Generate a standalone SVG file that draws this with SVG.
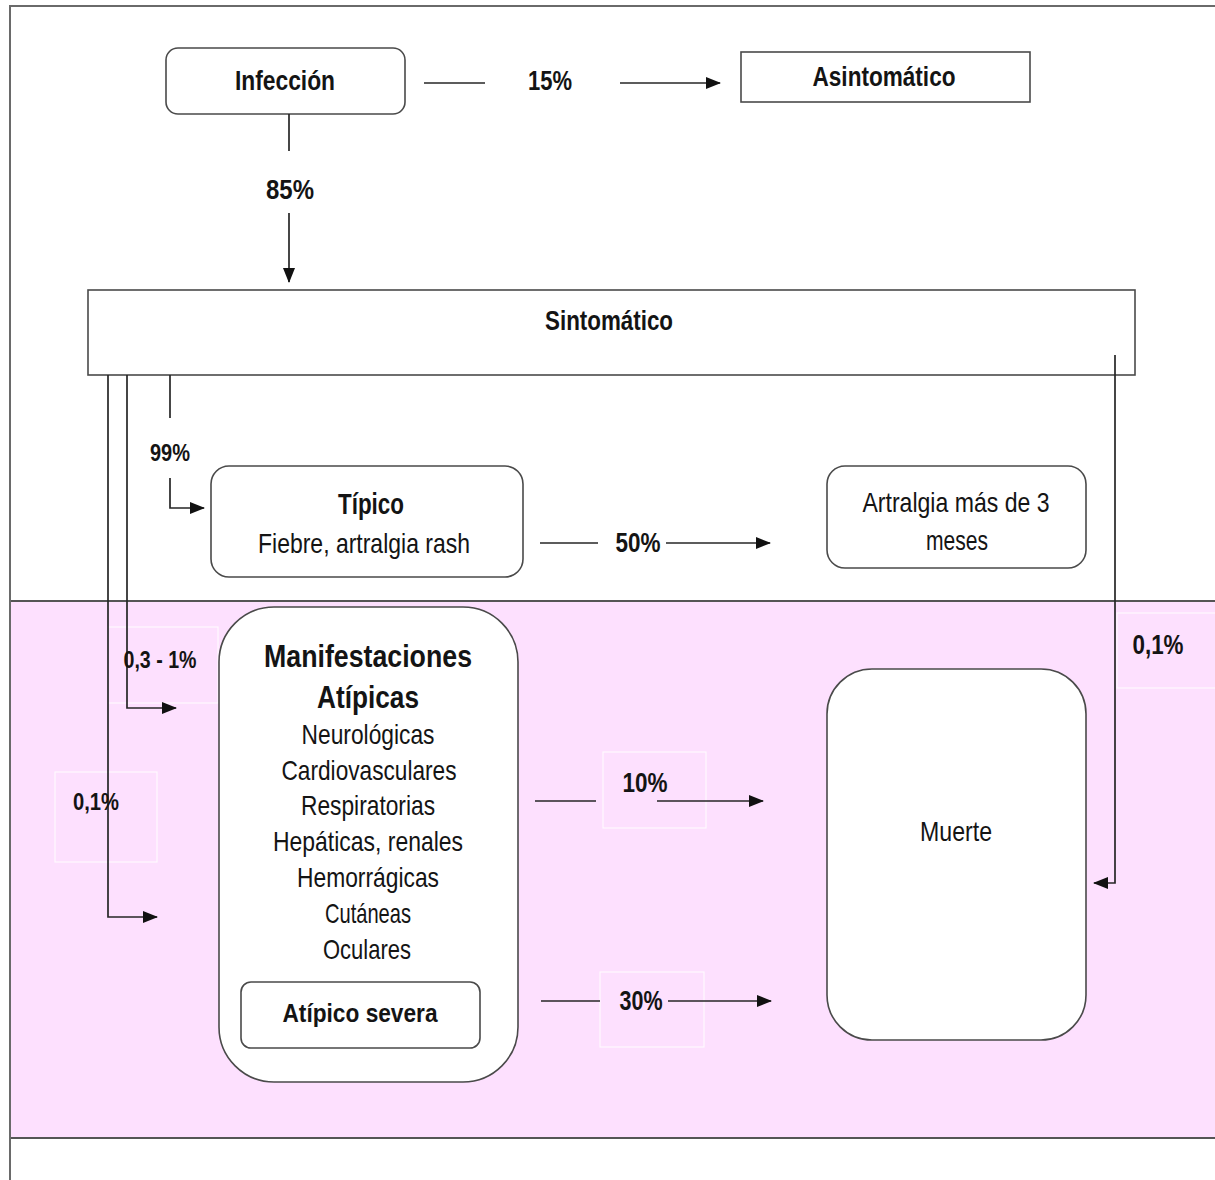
<svg xmlns="http://www.w3.org/2000/svg" width="1215" height="1180" viewBox="0 0 1215 1180">
  <style>
    text { font-family: "Liberation Sans Narrow", "Liberation Sans", Arial, sans-serif; fill: #141414; text-anchor: middle; dominant-baseline: central; }
    .b { font-weight: bold; }
    .lbl { font-weight: bold; font-size: 27px; }
    .sm { font-weight: bold; font-size: 24px; }
    .n { font-size: 28px; }
    .box { fill: #fff; stroke: #4a4a4a; stroke-width: 1.6; }
    .conn { fill: none; stroke: #262626; stroke-width: 1.7; }
    .tb { fill: none; stroke: #ffffff; stroke-width: 1.2; opacity: 0.8; }
  </style>
  <defs>
    <marker id="arr" viewBox="0 0 15 12" refX="14" refY="6" markerWidth="15" markerHeight="12" markerUnits="userSpaceOnUse" orient="auto">
      <path d="M0,0 L15,6 L0,12 Z" fill="#111"/>
    </marker>
  </defs>

  <rect width="1215" height="1180" fill="#fff"/>

  <!-- shaded band for atypical outcomes -->
  <rect x="10" y="601" width="1210" height="537" fill="#fde0fe"/>
  <line x1="10" y1="601" x2="1215" y2="601" stroke="#555" stroke-width="1.8"/>
  <line x1="10" y1="1138" x2="1215" y2="1138" stroke="#555" stroke-width="2"/>

  <!-- page frame -->
  <line x1="10" y1="6" x2="1215" y2="6" stroke="#6a6a6a" stroke-width="2"/>
  <line x1="10" y1="5" x2="10" y2="1180" stroke="#6a6a6a" stroke-width="2"/>

  <!-- label frames -->
  <rect class="tb" x="1117" y="613" width="100" height="75"/>
  <rect class="tb" x="108" y="627" width="110" height="76"/>
  <rect class="tb" x="55" y="772" width="102" height="90"/>
  <rect class="tb" x="603" y="752" width="103" height="76"/>
  <rect class="tb" x="600" y="972" width="104" height="75"/>

  <g id="infeccion">
    <rect class="box" x="166" y="48" width="239" height="66" rx="12"/>
    <text class="lbl" x="285" y="81" textLength="100" lengthAdjust="spacingAndGlyphs">Infección</text>
  </g>

  <g id="asintomatico">
    <rect class="box" x="741" y="52" width="289" height="50"/>
    <text class="lbl" x="884" y="77" textLength="143" lengthAdjust="spacingAndGlyphs">Asintomático</text>
  </g>

  <g id="sintomatico">
    <rect class="box" x="88" y="290" width="1047" height="85"/>
    <text class="lbl" x="609" y="321" textLength="128" lengthAdjust="spacingAndGlyphs">Sintomático</text>
  </g>

  <g id="tipico">
    <rect class="box" x="211" y="466" width="312" height="111" rx="18"/>
    <text class="b" font-size="30" x="371" y="503" textLength="66" lengthAdjust="spacingAndGlyphs">Típico</text>
    <text class="n" x="364" y="543" textLength="212" lengthAdjust="spacingAndGlyphs">Fiebre, artralgia rash</text>
  </g>

  <g id="artralgia">
    <rect class="box" x="827" y="466" width="259" height="102" rx="18"/>
    <text class="n" x="956" y="502" textLength="187" lengthAdjust="spacingAndGlyphs">Artralgia más de 3</text>
    <text class="n" x="957" y="540" textLength="62" lengthAdjust="spacingAndGlyphs">meses</text>
  </g>

  <g id="atipicas">
    <rect class="box" x="219" y="607" width="299" height="475" rx="55"/>
    <text class="b" font-size="32" x="368" y="656" textLength="208" lengthAdjust="spacingAndGlyphs">Manifestaciones</text>
    <text class="b" font-size="32" x="368" y="697" textLength="102" lengthAdjust="spacingAndGlyphs">Atípicas</text>
    <text class="n" x="368" y="734" textLength="133" lengthAdjust="spacingAndGlyphs">Neurológicas</text>
    <text class="n" x="369" y="770" textLength="175" lengthAdjust="spacingAndGlyphs">Cardiovasculares</text>
    <text class="n" x="368" y="805" textLength="134" lengthAdjust="spacingAndGlyphs">Respiratorias</text>
    <text class="n" x="368" y="841" textLength="190" lengthAdjust="spacingAndGlyphs">Hepáticas, renales</text>
    <text class="n" x="368" y="877" textLength="142" lengthAdjust="spacingAndGlyphs">Hemorrágicas</text>
    <text class="n" x="368" y="913" textLength="86" lengthAdjust="spacingAndGlyphs">Cutáneas</text>
    <text class="n" x="367" y="949" textLength="88" lengthAdjust="spacingAndGlyphs">Oculares</text>
  </g>

  <g id="atipico-severa">
    <rect class="box" x="241" y="982" width="239" height="66" rx="10"/>
    <text class="b" font-size="26" x="360" y="1013" textLength="155" lengthAdjust="spacingAndGlyphs">Atípico severa</text>
  </g>

  <g id="muerte">
    <rect class="box" x="827" y="669" width="259" height="371" rx="45"/>
    <text class="n" x="956" y="831" textLength="72" lengthAdjust="spacingAndGlyphs">Muerte</text>
  </g>

  <g id="connectors">
    <!-- Infección -> Asintomático -->
    <line class="conn" x1="424" y1="83" x2="485" y2="83"/>
    <line class="conn" x1="620" y1="83" x2="720" y2="83" marker-end="url(#arr)"/>
    <text class="lbl" x="550" y="81" textLength="44" lengthAdjust="spacingAndGlyphs">15%</text>

    <!-- Infección -> Sintomático -->
    <line class="conn" x1="289" y1="114" x2="289" y2="151"/>
    <line class="conn" x1="289" y1="213" x2="289" y2="282" marker-end="url(#arr)"/>
    <text class="lbl" x="290" y="190" textLength="48" lengthAdjust="spacingAndGlyphs">85%</text>

    <!-- Sintomático -> Típico -->
    <line class="conn" x1="170" y1="375" x2="170" y2="418"/>
    <polyline class="conn" points="170,478 170,508 204,508" marker-end="url(#arr)"/>
    <text class="sm" x="170" y="452" textLength="40" lengthAdjust="spacingAndGlyphs">99%</text>

    <!-- Típico -> Artralgia -->
    <line class="conn" x1="540" y1="543" x2="598" y2="543"/>
    <line class="conn" x1="666" y1="543" x2="770" y2="543" marker-end="url(#arr)"/>
    <text class="lbl" x="638" y="543" textLength="45" lengthAdjust="spacingAndGlyphs">50%</text>

    <!-- Sintomático -> Manifestaciones atípicas -->
    <polyline class="conn" points="127,375 127,708 176,708" marker-end="url(#arr)"/>
    <text class="sm" x="160" y="659" textLength="73" lengthAdjust="spacingAndGlyphs">0,3 - 1%</text>

    <polyline class="conn" points="108,375 108,917 157,917" marker-end="url(#arr)"/>
    <text class="sm" x="96" y="801" textLength="46" lengthAdjust="spacingAndGlyphs">0,1%</text>

    <!-- Sintomático -> Muerte -->
    <polyline class="conn" points="1115,355 1115,883 1094,883" marker-end="url(#arr)"/>
    <text class="lbl" x="1158" y="645" textLength="51" lengthAdjust="spacingAndGlyphs">0,1%</text>

    <!-- Atípicas -> Muerte -->
    <line class="conn" x1="535" y1="801" x2="596" y2="801"/>
    <line class="conn" x1="657" y1="801" x2="763" y2="801" marker-end="url(#arr)"/>
    <text class="lbl" x="645" y="783" textLength="45" lengthAdjust="spacingAndGlyphs">10%</text>

    <!-- Atípico severa -> Muerte -->
    <line class="conn" x1="541" y1="1001" x2="600" y2="1001"/>
    <line class="conn" x1="668" y1="1001" x2="771" y2="1001" marker-end="url(#arr)"/>
    <text class="lbl" x="641" y="1001" textLength="43" lengthAdjust="spacingAndGlyphs">30%</text>
  </g>
</svg>
